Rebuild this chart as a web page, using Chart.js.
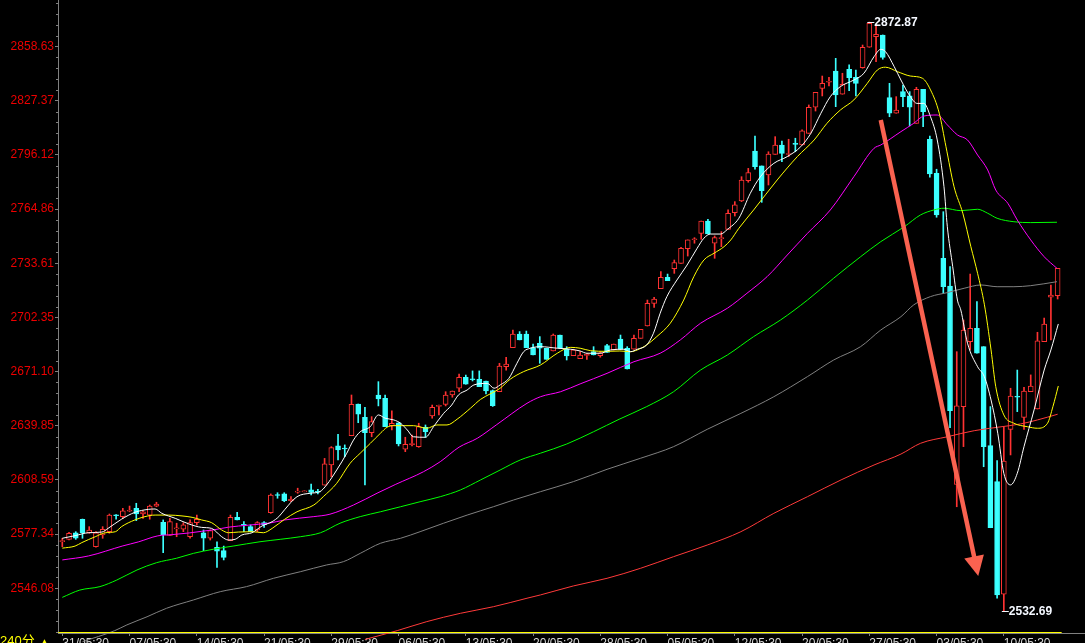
<!DOCTYPE html>
<html><head><meta charset="utf-8">
<script src="https://cdn.jsdelivr.net/npm/chart.js@4.4.1/dist/chart.umd.min.js"></script>
<style>html,body{margin:0;padding:0;background:#000;overflow:hidden}canvas{display:block;background:#000}</style>
</head><body>
<canvas id="c" width="1085" height="643"></canvas>
<script>
const periodLabel = '240分';
const xLabels = ['31/05:30','07/05:30','14/05:30','21/05:30','29/05:30','06/05:30','13/05:30','20/05:30','28/05:30','05/05:30','12/05:30','20/05:30','27/05:30','03/05:30','10/05:30'];
const yTicks = [2546.08,2577.34,2608.59,2639.85,2671.10,2702.35,2733.61,2764.86,2796.12,2827.37,2858.63];

const open = [2573.0,2574.3,2578.1,2585.9,2578.1,2570.0,2576.8,2578.7,2588.4,2587.4,2590.5,2592.2,2588.9,2588.3,2593.4,2584.1,2576.6,2580.3,2580.1,2575.8,
2583.9,2578.1,2574.9,2569.7,2567.8,2573.5,2587.0,2582.9,2581.6,2579.7,2583.9,2589.7,2600.1,2600.5,2596.6,2601.5,2601.7,2602.8,2602.0,2605.6,
2617.2,2628.2,2627.0,2634.1,2652.4,2644.7,2635.8,2657.6,2655.7,2639.9,2641.6,2626.3,2629.0,2627.8,2639.0,2645.5,2651.0,2652.2,2657.6,2661.5,
2667.8,2667.0,2666.7,2665.7,2660.1,2659.5,2674.0,2684.9,2692.8,2692.8,2684.9,2687.4,2684.6,2683.0,2692.2,2684.0,2680.3,2678.6,2680.4,2682.6,
2680.3,2686.1,2683.6,2689.9,2684.6,2684.0,2690.3,2697.4,2710.5,2718.9,2725.5,2730.5,2733.6,2742.1,2747.2,2750.9,2758.0,2745.2,2747.8,2753.2,
2762.8,2769.6,2781.3,2798.4,2789.8,2784.6,2796.5,2801.9,2796.4,2802.8,2801.9,2808.6,2823.7,2834.6,2838.1,2844.6,2831.2,2845.6,2841.0,2846.5,
2858.3,2864.4,2865.4,2829.2,2820.2,2832.7,2830.2,2814.4,2834.0,2805.2,2785.6,2736.5,2720.5,2606.0,2650.9,2688.4,2696.1,2685.5,2628.4,2607.6,
2542.6,2637.8,2656.9,2644.7,2659.5,2649.5,2688.4,2714.0,2714.9];
const high = [2574.9,2578.3,2578.7,2586.0,2581.6,2578.7,2581.6,2588.9,2588.6,2592.2,2593.5,2595.1,2590.8,2594.1,2595.7,2585.5,2586.4,2583.6,2583.9,2585.5,
2588.3,2579.7,2579.7,2572.9,2570.4,2588.3,2589.9,2584.5,2582.6,2584.5,2584.5,2600.5,2601.2,2601.2,2598.9,2603.8,2602.3,2606.2,2603.2,2621.0,
2627.8,2634.9,2628.8,2657.6,2652.4,2650.5,2645.1,2665.3,2657.6,2648.5,2641.6,2633.2,2634.5,2641.3,2640.3,2651.8,2651.8,2659.5,2659.9,2669.7,
2669.1,2671.5,2671.5,2665.7,2660.5,2675.9,2679.4,2695.1,2694.2,2694.5,2687.0,2691.3,2684.6,2692.8,2692.2,2685.5,2684.0,2682.6,2681.7,2685.5,
2682.6,2686.9,2687.0,2692.2,2685.5,2692.2,2695.5,2712.4,2714.0,2728.8,2727.4,2735.5,2742.9,2747.1,2748.4,2758.0,2759.0,2749.4,2751.9,2764.4,
2769.2,2783.6,2788.4,2807.1,2789.8,2798.0,2806.7,2804.2,2805.2,2805.8,2810.6,2825.0,2832.3,2841.7,2841.0,2851.9,2843.3,2848.1,2845.2,2859.6,
2872.87,2871.2,2865.4,2837.5,2829.8,2836.5,2832.7,2835.2,2834.0,2807.1,2787.9,2763.4,2731.7,2682.6,2700.9,2727.4,2711.5,2685.5,2650.9,2619.7,
2639.3,2661.5,2672.0,2662.0,2669.2,2693.8,2702.0,2721.1,2730.7];
const low = [2570.0,2573.9,2574.3,2574.9,2577.8,2569.7,2574.9,2577.8,2585.9,2586.4,2590.2,2585.1,2586.4,2585.9,2593.1,2566.6,2576.6,2575.8,2578.7,2574.9,
2582.6,2567.8,2573.9,2558.1,2562.4,2573.5,2585.5,2578.7,2578.7,2578.7,2581.2,2589.3,2598.0,2596.0,2596.0,2600.9,2601.7,2599.9,2600.5,2605.6,
2610.4,2620.1,2622.0,2634.1,2641.6,2605.7,2633.5,2651.3,2639.3,2637.4,2628.2,2624.9,2628.2,2627.4,2633.2,2644.2,2646.1,2651.3,2656.3,2659.5,
2663.8,2665.7,2662.4,2658.2,2651.0,2659.5,2672.0,2684.9,2689.4,2684.9,2680.7,2675.9,2678.2,2683.0,2684.6,2677.8,2680.3,2678.6,2678.2,2680.7,
2679.4,2682.2,2683.6,2684.0,2672.6,2684.0,2690.3,2697.4,2708.2,2718.9,2723.6,2727.8,2733.6,2737.8,2745.2,2747.5,2750.5,2736.5,2743.2,2753.2,
2760.9,2769.2,2780.4,2787.9,2768.8,2778.8,2796.5,2792.3,2795.2,2798.0,2801.9,2808.6,2821.5,2830.2,2836.0,2824.0,2831.2,2833.2,2830.2,2846.2,
2858.3,2850.0,2851.4,2818.2,2820.2,2824.0,2812.9,2814.4,2812.5,2783.3,2760.2,2716.3,2638.7,2593.1,2627.8,2683.6,2681.7,2616.2,2581.0,2540.3,
2532.69,2623.0,2648.0,2637.8,2659.5,2649.5,2688.4,2689.4,2713.0];
const close = [2573.6,2577.8,2574.9,2578.1,2579.7,2578.1,2580.1,2588.3,2588.0,2590.8,2591.0,2588.9,2590.2,2593.5,2594.7,2576.8,2584.5,2580.9,2582.6,2583.9,
2585.9,2574.9,2579.3,2567.4,2563.9,2587.0,2585.5,2582.3,2578.7,2583.9,2582.6,2599.9,2599.6,2596.6,2597.4,2602.1,2602.3,2601.4,2601.5,2617.8,
2627.2,2625.9,2626.5,2652.2,2646.6,2635.8,2642.2,2655.3,2639.3,2641.3,2629.3,2629.1,2629.6,2639.3,2636.4,2650.5,2651.6,2657.6,2659.9,2667.8,
2663.8,2666.5,2662.4,2659.9,2651.4,2674.3,2675.5,2692.8,2689.4,2684.9,2680.7,2684.6,2678.2,2692.2,2684.6,2680.1,2683.6,2680.7,2681.0,2680.7,
2682.0,2682.2,2687.0,2684.0,2672.6,2690.3,2695.5,2710.5,2713.0,2725.5,2723.6,2734.0,2742.3,2747.1,2747.8,2758.0,2750.5,2748.4,2748.4,2762.5,
2767.3,2781.7,2785.9,2789.4,2775.5,2796.7,2801.9,2797.1,2797.0,2802.2,2810.0,2823.7,2832.3,2837.5,2838.7,2830.8,2836.9,2840.8,2837.5,2858.3,
2872.1,2865.8,2852.5,2820.2,2822.1,2829.8,2823.7,2834.0,2821.1,2785.2,2761.5,2720.1,2648.5,2651.3,2695.1,2696.1,2681.7,2627.8,2581.0,2542.2,
2619.5,2657.0,2656.3,2659.9,2662.8,2688.8,2698.6,2715.3,2730.7];

// moving averages: [bar index, value]
const maWhite = [[0,2574.9],[1.9,2576.4],[3.9,2578.1],[5.9,2578.5],[6.8,2580.6],[8.8,2585.9],[10.8,2589.9],[12.8,2591.6],[13.8,2591.8],[14.8,2589.3],[16.8,2586.4],[18.8,2583.2],[20.7,2581.2],[22.2,2580.6],[23.7,2575.8],[24.7,2573.9],[25.7,2574.3],[26.7,2576.8],[28.2,2578.1],[29.7,2582.0],[31.2,2584.5],[32.2,2587.4],[33.1,2591.6],[34.9,2598.9],[36.9,2600.9],[38.3,2601.8],[39.3,2605.7],[40.8,2614.3],[42.3,2624.0],[43.3,2631.6],[44.3,2636.4],[45.8,2639.3],[47.0,2646.1],[48.0,2644.2],[49.3,2643.2],[50.3,2641.3],[51.3,2637.4],[52.2,2633.5],[54.0,2633.2],[55.2,2639.3],[56.7,2647.0],[57.9,2651.8],[58.9,2657.6],[60.2,2660.5],[61.2,2663.4],[63.2,2664.3],[64.2,2661.5],[65.1,2663.4],[66.4,2667.2],[67.6,2675.9],[68.6,2682.6],[69.6,2684.6],[71.1,2685.5],[73.6,2684.6],[75.6,2684.0],[77.0,2683.0],[78.0,2681.7],[80.0,2681.7],[81.5,2683.6],[83.5,2684.0],[84.5,2682.6],[85.5,2684.0],[86.9,2686.5],[87.9,2693.2],[88.9,2704.8],[89.9,2714.4],[91.4,2724.0],[92.9,2732.6],[94.4,2742.3],[95.4,2748.1],[96.4,2750.5],[97.9,2750.5],[98.9,2753.2],[100.6,2759.6],[102.3,2774.0],[103.8,2783.6],[105.8,2791.3],[107.8,2795.2],[109.8,2800.9],[111.3,2808.6],[112.8,2820.2],[114.2,2829.8],[115.7,2835.6],[117.7,2839.4],[119.2,2843.3],[120.7,2852.9],[121.7,2857.1],[122.4,2855.8],[123.7,2847.1],[124.7,2839.4],[126.1,2829.8],[127.1,2825.9],[128.1,2825.9],[129.1,2818.2],[130.1,2804.8],[131.1,2777.8],[131.6,2754.7],[132.4,2731.7],[133.1,2712.4],[133.6,2706.7],[134.6,2687.5],[136.1,2673.9],[137.1,2668.2],[138.1,2654.7],[139.1,2635.5],[140.0,2612.4],[141.0,2605.7],[142.0,2612.4],[143.0,2627.8],[144.5,2649.0],[146.0,2672.0],[147.0,2683.6],[148.1,2698.6]];
const maYellow = [[0,2569.2],[1.9,2570.4],[2.9,2572.4],[4.9,2575.8],[6.4,2578.1],[7.9,2578.7],[8.8,2581.6],[10.8,2585.5],[12.3,2587.4],[13.8,2588.3],[15.8,2588.3],[17.8,2587.8],[19.3,2587.0],[20.7,2585.5],[22.2,2583.9],[23.7,2579.7],[24.7,2578.1],[26.2,2578.5],[28.2,2578.7],[29.9,2578.1],[31.2,2580.6],[33.0,2585.7],[34.9,2590.2],[37.4,2594.1],[38.8,2598.9],[40.8,2606.6],[42.8,2618.2],[44.3,2624.0],[45.8,2629.7],[47.3,2635.5],[48.3,2639.0],[49.3,2639.9],[52.2,2639.9],[54.2,2638.4],[55.7,2640.3],[57.2,2640.3],[58.7,2643.6],[60.7,2650.0],[62.2,2655.1],[63.6,2658.2],[65.1,2661.5],[66.6,2666.7],[68.6,2671.1],[71.1,2674.9],[73.6,2681.7],[75.6,2685.1],[77.0,2684.6],[78.5,2683.2],[81.0,2682.8],[82.9,2683.0],[84.5,2682.6],[85.5,2683.6],[86.9,2686.5],[88.4,2691.3],[90.4,2699.0],[92.4,2712.4],[93.9,2725.9],[95.4,2735.5],[96.9,2739.4],[98.4,2743.2],[99.4,2747.1],[100.6,2753.8],[102.8,2764.4],[106.3,2781.7],[109.3,2795.2],[111.8,2804.8],[113.7,2814.4],[115.7,2822.1],[117.7,2827.9],[119.7,2837.5],[121.2,2845.2],[122.4,2846.8],[124.2,2844.2],[126.1,2841.7],[127.9,2840.4],[129.1,2833.7],[130.4,2820.2],[131.4,2800.9],[132.6,2777.8],[133.9,2762.5],[135.1,2743.2],[136.1,2727.8],[137.1,2710.0],[138.1,2683.6],[138.8,2662.4],[140.0,2646.1],[141.5,2641.3],[143.5,2639.3],[145.0,2638.4],[146.5,2641.3],[147.3,2650.9],[148.1,2662.8]];
const maMagenta = [[0,2562.4],[3.9,2564.7],[9.0,2570.5],[11.3,2572.8],[14.2,2576.3],[16.3,2577.0],[18.9,2578.0],[20.7,2578.9],[22.7,2579.9],[24.7,2581.3],[27.7,2582.5],[30.7,2583.6],[33.1,2585.5],[37.4,2587.4],[39.8,2588.8],[43.3,2594.1],[46.8,2600.9],[49.5,2605.9],[53.7,2613.3],[56.2,2619.1],[59.0,2627.5],[61.7,2632.6],[64.6,2640.5],[69.1,2652.8],[71.1,2656.6],[74.1,2659.5],[77.0,2664.0],[81.0,2670.1],[85.0,2676.8],[88.9,2681.7],[91.9,2689.4],[94.9,2699.0],[98.9,2707.7],[101.8,2716.3],[104.8,2725.9],[107.8,2738.4],[110.8,2750.9],[114.2,2764.4],[117.7,2783.6],[120.7,2800.0],[121.7,2801.9],[124.7,2809.6],[126.6,2814.4],[128.1,2818.6],[130.1,2819.2],[131.6,2813.5],[133.1,2807.7],[134.6,2804.8],[136.1,2796.1],[137.6,2787.5],[138.8,2775.9],[140.6,2768.2],[142.0,2758.6],[144.0,2747.1],[146.0,2737.4],[147.9,2730.7]];
const maGreen = [[0,2540.8],[2.6,2545.0],[5.6,2547.0],[8.1,2550.8],[11.1,2556.6],[14.0,2560.8],[17.0,2563.4],[19.5,2566.2],[22.5,2568.6],[25.4,2570.4],[29.4,2572.9],[32.4,2574.3],[35.4,2575.8],[38.4,2578.1],[41.3,2583.6],[44.3,2587.4],[47.3,2590.2],[50.3,2593.1],[53.2,2596.0],[56.2,2598.9],[59.2,2602.8],[62.2,2608.6],[65.1,2614.3],[68.1,2620.1],[71.1,2624.0],[75.0,2629.3],[79.0,2636.4],[82.8,2643.6],[86.9,2650.9],[90.9,2659.5],[94.9,2672.0],[98.9,2680.7],[102.8,2691.3],[106.8,2700.9],[110.8,2712.4],[114.7,2725.0],[118.7,2737.4],[121.7,2746.1],[125.2,2754.7],[127.6,2761.5],[129.6,2764.4],[131.1,2765.4],[133.6,2764.0],[136.1,2764.8],[137.6,2762.5],[139.0,2759.6],[141.5,2757.6],[144.0,2757.1],[147.9,2757.3]];
const maGrey = [[3,2515.2],[7.8,2521.6],[9.6,2524.9],[12.6,2529.6],[15.5,2534.5],[19.5,2539.3],[23.5,2544.1],[27.4,2547.0],[31.4,2551.8],[35.4,2555.6],[39.3,2559.5],[41.8,2561.4],[44.3,2566.2],[47.3,2572.0],[50.3,2574.9],[53.2,2578.7],[56.7,2583.6],[60.2,2588.3],[64.1,2593.1],[67.1,2597.0],[71.1,2601.8],[76.0,2607.6],[81.0,2614.7],[86.0,2621.1],[90.9,2627.8],[95.9,2637.8],[100.9,2647.0],[105.8,2656.6],[110.8,2668.2],[114.7,2677.8],[118.7,2685.5],[121.7,2695.1],[124.7,2702.8],[126.6,2709.6],[129.1,2714.4],[131.6,2716.7],[134.1,2719.2],[136.6,2721.1],[139.0,2720.1],[141.5,2720.1],[144.0,2720.7],[147.9,2723.0]];
const maRed = [[45,2516.5],[49.8,2521.6],[54.2,2526.8],[59.2,2531.6],[64.1,2535.4],[69.1,2540.3],[71.1,2542.2],[76.0,2547.4],[81.0,2551.8],[86.0,2557.6],[90.9,2564.3],[95.9,2571.0],[100.9,2578.7],[105.8,2589.3],[110.8,2598.9],[115.8,2608.6],[120.7,2617.2],[124.7,2623.5],[127.6,2629.7],[131.6,2633.5],[135.6,2637.0],[139.1,2639.0],[142.5,2640.9],[145.0,2643.2],[148.0,2646.5]];

// arrow annotation in data coordinates [bar index, price]
const arrowFrom = [121.7, 2816.3];
const arrowTo = [136.2, 2553.1];

const UP = '#ff3232', DOWN = '#3cffff';
const FONT = "'Liberation Sans', Arial, sans-serif";
const isUp = open.map((o,i)=> close[i] >= o);

const bodyData = open.map((o,i)=>({x:i, y:[Math.min(o,close[i]), Math.max(o,close[i])]}));
const wickData = open.map((o,i)=>({x:i, y:[low[i], high[i]]}));
const pts = arr => arr.map(([x,y])=>({x,y}));

function lineDs(arr, color, extra){
  return Object.assign({type:'line', data: pts(arr), borderColor: color, borderWidth: 1, pointRadius: 0,
    cubicInterpolationMode: 'monotone', fill: false, order: 0}, extra||{});
}

const decor = {
  id: 'decor',
  afterDatasetsDraw(chart){
    const {ctx, scales:{x:xs, y:ys}} = chart;
    ctx.save();
    const x0 = xs.getPixelForValue(arrowFrom[0]), y0 = ys.getPixelForValue(arrowFrom[1]);
    const x1 = xs.getPixelForValue(arrowTo[0]), y1 = ys.getPixelForValue(arrowTo[1]);
    const dx = x1-x0, dy = y1-y0, L = Math.hypot(dx,dy), ux = dx/L, uy = dy/L;
    const headLen = 20, headW = 10;
    const bx = x1-ux*headLen, by = y1-uy*headLen;
    const AR = 'rgb(250,98,80)';
    ctx.strokeStyle = AR; ctx.lineWidth = 4.5; ctx.lineCap = 'butt';
    ctx.beginPath(); ctx.moveTo(x0,y0); ctx.lineTo(bx+ux*2, by+uy*2); ctx.stroke();
    ctx.fillStyle = AR;
    ctx.beginPath(); ctx.moveTo(x1,y1); ctx.lineTo(bx-uy*headW, by+ux*headW); ctx.lineTo(bx+uy*headW, by-ux*headW); ctx.closePath(); ctx.fill();
    let hi = 0, lo = 0;
    high.forEach((v,i)=>{ if (v > high[hi]) hi = i; });
    low.forEach((v,i)=>{ if (v < low[lo]) lo = i; });
    ctx.font = 'bold 12px ' + FONT;
    ctx.textBaseline = 'middle';
    ctx.fillStyle = '#f4f8ff'; ctx.strokeStyle = '#f4f8ff'; ctx.lineWidth = 1;
    [[hi, high[hi]], [lo, low[lo]]].forEach(([i,v])=>{
      const px = xs.getPixelForValue(i), py = Math.round(ys.getPixelForValue(v)) + 0.5;
      ctx.beginPath(); ctx.moveTo(px-2, py); ctx.lineTo(px+5, py); ctx.stroke();
      ctx.fillText(v.toFixed(2), px+5, py+0.5);
    });
    ctx.restore();
  },
  afterDraw(chart){
    const {ctx, chartArea:a, scales:{x:xs, y:ys}} = chart;
    ctx.save();
    const step = (yTicks[1]-yTicks[0])/5;
    ctx.strokeStyle = '#808080'; ctx.lineWidth = 1;
    for (let k = -20; k <= 80; k++) {
      if (k % 5 === 0) continue;
      const v = yTicks[0] + k*step;
      if (v < ys.min || v > ys.max) continue;
      const py = Math.round(ys.getPixelForValue(v)) + 0.5;
      ctx.beginPath(); ctx.moveTo(a.left-2, py); ctx.lineTo(a.left, py); ctx.stroke();
    }
    ctx.strokeStyle = '#ffff00';
    const yb = Math.round(a.bottom) - 0.5;
    ctx.beginPath(); ctx.moveTo(xs.getPixelForValue(-0.6), yb); ctx.lineTo(xs.getPixelForValue(open.length-0.4), yb); ctx.stroke();
    ctx.fillStyle = '#ffff00';
    ctx.textBaseline = 'top';
    ctx.font = "13px 'Liberation Sans', 'Noto Sans CJK SC', sans-serif";
    ctx.fillText(periodLabel, 0, 635);
    ctx.font = "9px 'DejaVu Sans', sans-serif";
    ctx.fillText('▲', 41, 638);
    ctx.restore();
  }
};

new Chart(document.getElementById('c'), {
  type: 'bar',
  data: {
    datasets: [
      lineDs(maWhite, '#ffffff'),
      lineDs(maYellow, '#ffff00'),
      lineDs(maMagenta, '#ff00ff'),
      lineDs(maGreen, '#00ff00'),
      lineDs(maGrey, '#808080', {clip:{left:0,top:0,right:0,bottom:12}}),
      lineDs(maRed, '#ff3a3a', {clip:{left:0,top:0,right:0,bottom:12}}),
      {type:'bar', data: bodyData, order: 1, grouped: false, barThickness: 5, borderWidth: 1, borderSkipped: false,
        backgroundColor: isUp.map(u=> u ? '#000000' : DOWN), borderColor: isUp.map(u=> u ? UP : DOWN)},
      {type:'bar', data: wickData, order: 2, grouped: false, barThickness: 1, borderWidth: 0,
        backgroundColor: isUp.map(u=> u ? UP : DOWN)}
    ]
  },
  options: {
    responsive: false, animation: false,
    layout: {padding: 0},
    plugins: {legend:{display:false}, tooltip:{enabled:false}},
    events: [],
    scales: {
      x: {type:'linear', min: -0.64, max: 152.07, offset: false, position: 'bottom',
        afterFit(s){ s.height = 10; s.paddingLeft = 0; s.paddingRight = 0; },
        afterBuildTicks(s){ s.ticks = xLabels.map((_,k)=>({value:k*10})); },
        ticks: {callback:(v)=> xLabels[Math.round(v/10)] ?? '', color:'#d8d8d8', align:'start', padding:0,
          maxRotation:0, autoSkip:false, font:{family:FONT, size:12}},
        grid: {drawOnChartArea:false, drawTicks:true, tickLength:3, color:'#808080', offset:false},
        border: {color:'#808080'}
      },
      y: {type:'linear', min: 2520.23, max: 2885.58, beginAtZero:false, position:'left',
        afterFit(s){ s.width = 58; s.paddingTop = 0; s.paddingBottom = 0; },
        afterBuildTicks(s){ s.ticks = yTicks.map(v=>({value:v})); },
        ticks: {callback:(v)=> Number(v).toFixed(2), color:'#ee0000', padding:1, font:{family:FONT, size:12}},
        grid: {drawOnChartArea:false, drawTicks:true, tickLength:3, color:'#808080'},
        border: {color:'#808080'}
      }
    }
  },
  plugins: [decor]
});
</script>
</body></html>
